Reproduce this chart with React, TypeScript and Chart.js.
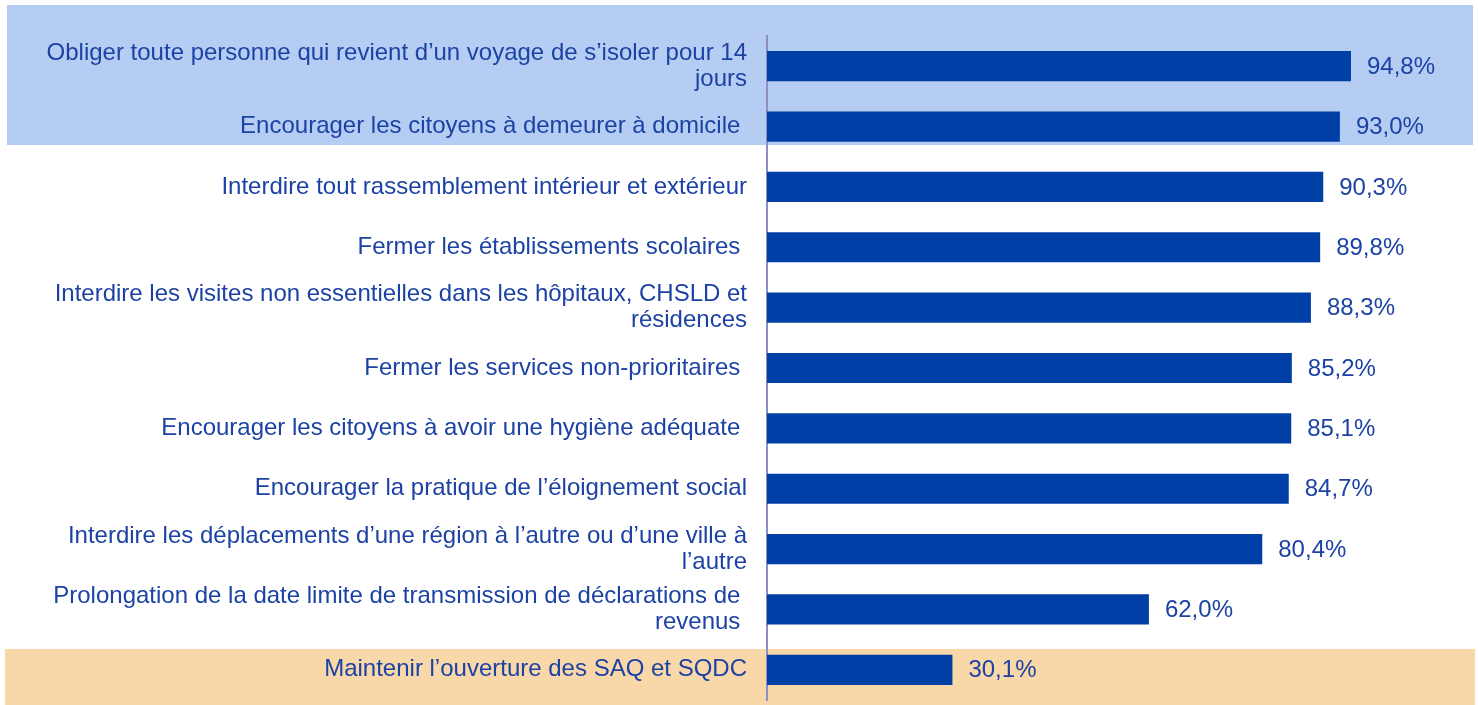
import React, { useEffect, useRef } from "react";
import { Chart, registerables } from "chart.js";

Chart.register(...registerables);

const categories: (string | string[])[] = [
  ["Obliger toute personne qui revient d’un voyage de s’isoler pour 14", "jours"],
  "Encourager les citoyens à demeurer à domicile ",
  "Interdire tout rassemblement intérieur et extérieur",
  "Fermer les établissements scolaires ",
  ["Interdire les visites non essentielles dans les hôpitaux, CHSLD et", "résidences"],
  "Fermer les services non-prioritaires ",
  "Encourager les citoyens à avoir une hygiène adéquate ",
  "Encourager la pratique de l’éloignement social",
  ["Interdire les déplacements d’une région à l’autre ou d’une ville à", "l’autre"],
  ["Prolongation de la date limite de transmission de déclarations de ", "revenus "],
  "Maintenir l’ouverture des SAQ et SQDC",
];

const values: number[] = [94.8, 93.0, 90.3, 89.8, 88.3, 85.2, 85.1, 84.7, 80.4, 62.0, 30.1];

const FONT = "'Liberation Sans', Arial, sans-serif";
const TEXT_COLOR = "#1c42a4";
const BAR_COLOR = "#003fa6";

const bandsPlugin = {
  id: "bands",
  beforeDraw(chart: any) {
    const ctx = chart.ctx;
    ctx.save();
    ctx.fillStyle = "#b5cdf2";
    ctx.fillRect(7, 5, 1466, 140);
    ctx.fillStyle = "#f8d7a8";
    ctx.fillRect(5, 649, 1470, 56);
    ctx.restore();
  },
};

const valueLabelPlugin = {
  id: "valueLabels",
  afterDatasetsDraw(chart: any) {
    const ctx = chart.ctx;
    const meta = chart.getDatasetMeta(0);
    ctx.save();
    ctx.fillStyle = TEXT_COLOR;
    ctx.font = `24px ${FONT}`;
    ctx.textAlign = "left";
    ctx.textBaseline = "middle";
    meta.data.forEach((bar: any, i: number) => {
      const txt = values[i].toFixed(1).replace(".", ",") + "%";
      ctx.fillText(txt, bar.x + 16, bar.y + 1);
    });
    ctx.restore();
  },
};

export default function App() {
  const ref = useRef<HTMLCanvasElement | null>(null);
  useEffect(() => {
    if (!ref.current) return;
    const chart = new Chart(ref.current, {
      type: "bar",
      data: {
        labels: categories,
        datasets: [
          {
            data: values,
            backgroundColor: BAR_COLOR,
            borderWidth: 0,
            barPercentage: 0.5,
            categoryPercentage: 1,
          },
        ],
      },
      options: {
        indexAxis: "y",
        responsive: false,
        animation: false,
        layout: { padding: { top: 36, bottom: 5, right: 95, left: 0 } },
        plugins: {
          legend: { display: false },
          tooltip: { enabled: false },
          title: { display: false },
        },
        scales: {
          x: { display: false, min: 0, max: 100 },
          y: {
            afterFit: (s: any) => {
              s.width = 767;
              s.paddingTop = 0;
              s.paddingBottom = 0;
            },
            grid: { display: false, drawTicks: false },
            border: { display: true, color: "#8d8fc4", width: 2 },
            ticks: {
              color: TEXT_COLOR,
              padding: 20,
              autoSkip: false,
              font: { family: FONT, size: 24, lineHeight: 1.1 },
            },
          },
        },
      },
      plugins: [bandsPlugin, valueLabelPlugin],
    });
    return () => chart.destroy();
  }, []);
  return (
    <div style={{ position: "absolute", left: 0, top: 0, width: 1478, height: 705, background: "#fff" }}>
      <canvas ref={ref} width={1478} height={705} />
    </div>
  );
}
